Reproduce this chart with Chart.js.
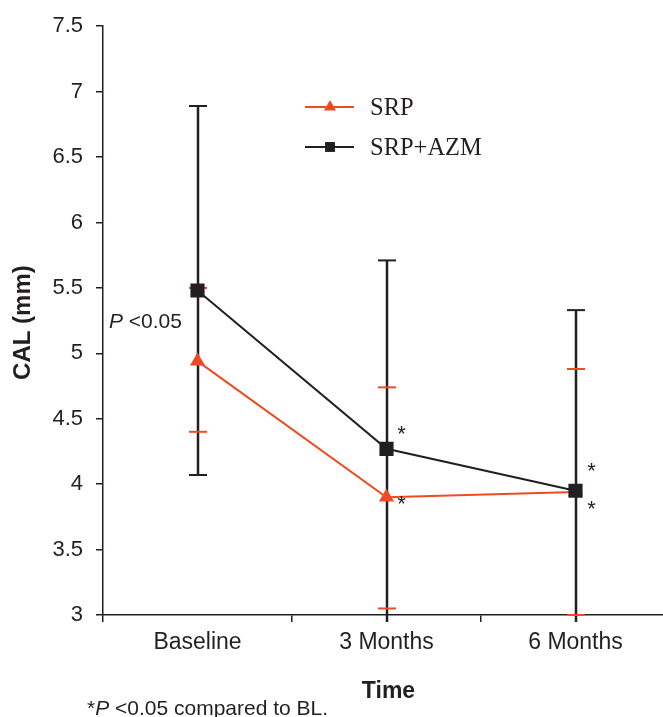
<!DOCTYPE html>
<html><head><meta charset="utf-8">
<script src="https://cdn.jsdelivr.net/npm/chart.js@4/dist/chart.umd.min.js"></script>
<style>
html,body{margin:0;padding:0;overflow:hidden;background:#fff;width:663px;height:717px}
#wrap{position:absolute;left:0;top:0;width:700px;height:717px}
</style></head>
<body><div id="wrap"><canvas id="c" width="700" height="717"></canvas></div>
<script>
// ---- data ----
const categories = ['Baseline', '3 Months', '6 Months'];
const seriesNames = ['SRP', 'SRP+AZM'];
const srpMean  = [4.94, 3.90, 3.94];
const srpUpper = [5.50, 4.74, 4.88];
const srpLower = [4.40, 3.05, 3.00];
const azmMean  = [5.48, 4.27, 3.95];
const azmUpper = [6.89, 5.71, 5.33];
const azmLower = [4.07, 2.85, 2.57];
const yTicks = [3, 3.5, 4, 4.5, 5, 5.5, 6, 6.5, 7, 7.5];
const yTitle = 'CAL (mm)';
const xTitle = 'Time';

const RED = '#ef4b23';
const DARK = '#231f20';
const SANS = '"Liberation Sans", Arial, sans-serif';
const SERIF = '"Liberation Serif", "Times New Roman", serif';

const errorBars = {
  id: 'errorBars',
  beforeDatasetsDraw(chart) {
    const ctx = chart.ctx, xs = chart.scales.x, ys = chart.scales.y, ca = chart.chartArea;
    const sets = [
      {up: srpUpper, lo: srpLower, color: RED, w: 1},
      {up: azmUpper, lo: azmLower, color: DARK, w: 2.5}
    ];
    const half = 9;
    const floor = ca.bottom + 7;
    ctx.save();
    sets.forEach(s => {
      ctx.strokeStyle = s.color;
      ctx.lineWidth = s.w;
      s.up.forEach((u, i) => {
        const x = Math.round(xs.getPixelForValue(i));
        const yu = ys.getPixelForValue(u);
        const yl = Math.min(ys.getPixelForValue(s.lo[i]), floor);
        ctx.beginPath(); ctx.moveTo(x, yu); ctx.lineTo(x, yl); ctx.stroke();
      });
    });
    ctx.lineWidth = 2;
    sets.forEach(s => {
      ctx.strokeStyle = s.color;
      s.up.forEach((u, i) => {
        const x = Math.round(xs.getPixelForValue(i));
        [u, s.lo[i]].forEach(v => {
          const y = ys.getPixelForValue(v);
          if (y > ca.bottom + 1) return;
          ctx.beginPath(); ctx.moveTo(x - half, y); ctx.lineTo(x + half, y); ctx.stroke();
        });
      });
    });
    ctx.restore();
  }
};

const annotations = {
  id: 'annotations',
  afterDraw(chart) {
    const ctx = chart.ctx, xs = chart.scales.x, ys = chart.scales.y, ca = chart.chartArea;
    ctx.save();
    ctx.fillStyle = DARK;
    ctx.textBaseline = 'alphabetic';

    // legend
    const lgX0 = 305, lgX1 = 354, lgMid = 330, lgText = 370;
    const entries = [
      {name: seriesNames[0], color: RED, style: 'triangle', r: 7, y: 107},
      {name: seriesNames[1], color: DARK, style: 'rect', r: 7, y: 147}
    ];
    entries.forEach(e => {
      ctx.strokeStyle = e.color; ctx.lineWidth = 2;
      ctx.beginPath(); ctx.moveTo(lgX0, e.y); ctx.lineTo(lgX1, e.y); ctx.stroke();
      ctx.fillStyle = e.color;
      Chart.helpers.drawPoint(ctx, {pointStyle: e.style, radius: e.r, borderWidth: 0, rotation: 0}, lgMid, e.y);
      ctx.fillStyle = DARK;
      ctx.font = '24.5px ' + SERIF;
      ctx.textAlign = 'left';
      ctx.textBaseline = 'middle';
      ctx.fillText(e.name, lgText, e.y + 2);
    });
    ctx.textBaseline = 'alphabetic';

    // significance asterisks
    ctx.font = '22px ' + SANS;
    ctx.textAlign = 'center';
    const stars = [
      {i: 1, v: azmMean[1], dx: 15, dy: -20},
      {i: 1, v: srpMean[1], dx: 15, dy: 1.5},
      {i: 2, v: azmMean[2], dx: 16, dy: -25},
      {i: 2, v: srpMean[2], dx: 16, dy: 11.5}
    ];
    stars.forEach(s => {
      ctx.fillText('*', xs.getPixelForValue(s.i) + s.dx, ys.getPixelForValue(s.v) + s.dy + 12.5);
    });

    // P < 0.05 label
    ctx.textAlign = 'left';
    let x = 109; const yb = 328;
    ctx.font = 'italic 21px ' + SANS;
    ctx.fillText('P', x, yb); x += ctx.measureText('P').width;
    ctx.font = '21px ' + SANS;
    ctx.fillText(' <0.05', x, yb);

    // axis titles
    ctx.font = 'bold 23px ' + SANS;
    ctx.textAlign = 'center';
    ctx.fillText(xTitle, (ca.left + ca.right) / 2 + 2, 698);
    ctx.save();
    ctx.font = 'bold 24px ' + SANS;
    ctx.translate(23, (ca.top + ca.bottom) / 2 + 2);
    ctx.rotate(-Math.PI / 2);
    ctx.textBaseline = 'middle';
    ctx.fillText(yTitle, 0, 0);
    ctx.restore();

    // footnote
    ctx.textAlign = 'left';
    ctx.textBaseline = 'alphabetic';
    let fx = 87; const fy = 715;
    ctx.font = '21px ' + SANS;
    ctx.fillText('*', fx, fy); fx += ctx.measureText('*').width;
    ctx.font = 'italic 21px ' + SANS;
    ctx.fillText('P', fx, fy); fx += ctx.measureText('P').width;
    ctx.font = '21px ' + SANS;
    ctx.fillText(' <0.05 compared to BL.', fx, fy);
    ctx.restore();
  }
};

new Chart(document.getElementById('c'), {
  type: 'line',
  data: {
    labels: categories,
    datasets: [
      {
        label: seriesNames[0], data: srpMean, order: 2,
        borderColor: RED, backgroundColor: RED, borderWidth: 2,
        pointStyle: 'triangle', pointRadius: 8.7, pointBorderWidth: 0,
        pointBackgroundColor: RED, tension: 0, fill: false
      },
      {
        label: seriesNames[1], data: azmMean, order: 1,
        borderColor: DARK, backgroundColor: DARK, borderWidth: 2,
        pointStyle: 'rect', pointRadius: 10, pointBorderWidth: 0,
        pointBackgroundColor: DARK, tension: 0, fill: false
      }
    ]
  },
  options: {
    responsive: false,
    animation: false,
    layout: {padding: {top: 23, right: 30, left: 0, bottom: 0}},
    plugins: {legend: {display: false}, tooltip: {enabled: false}},
    scales: {
      x: {
        type: 'category', offset: true,
        grid: {offset: true, drawOnChartArea: false, drawTicks: true, tickLength: 7, color: DARK, lineWidth: 1.5},
        border: {display: true, color: DARK, width: 1.5},
        ticks: {font: {family: SANS, size: 23}, color: DARK, padding: 7, maxRotation: 0, autoSkip: false},
        afterFit: s => { s.height = 102; }
      },
      y: {
        min: 3, max: 7.5,
        grid: {drawOnChartArea: false, drawTicks: true, tickLength: 7, color: DARK, lineWidth: 1.5},
        border: {display: true, color: DARK, width: 1.5},
        ticks: {font: {family: SANS, size: 22}, color: DARK, padding: 13, callback: v => String(v)},
        afterBuildTicks: s => { s.ticks = yTicks.map(v => ({value: v})); },
        afterFit: s => { s.width = 103; }
      }
    }
  },
  plugins: [errorBars, annotations]
});
</script>
</body></html>
